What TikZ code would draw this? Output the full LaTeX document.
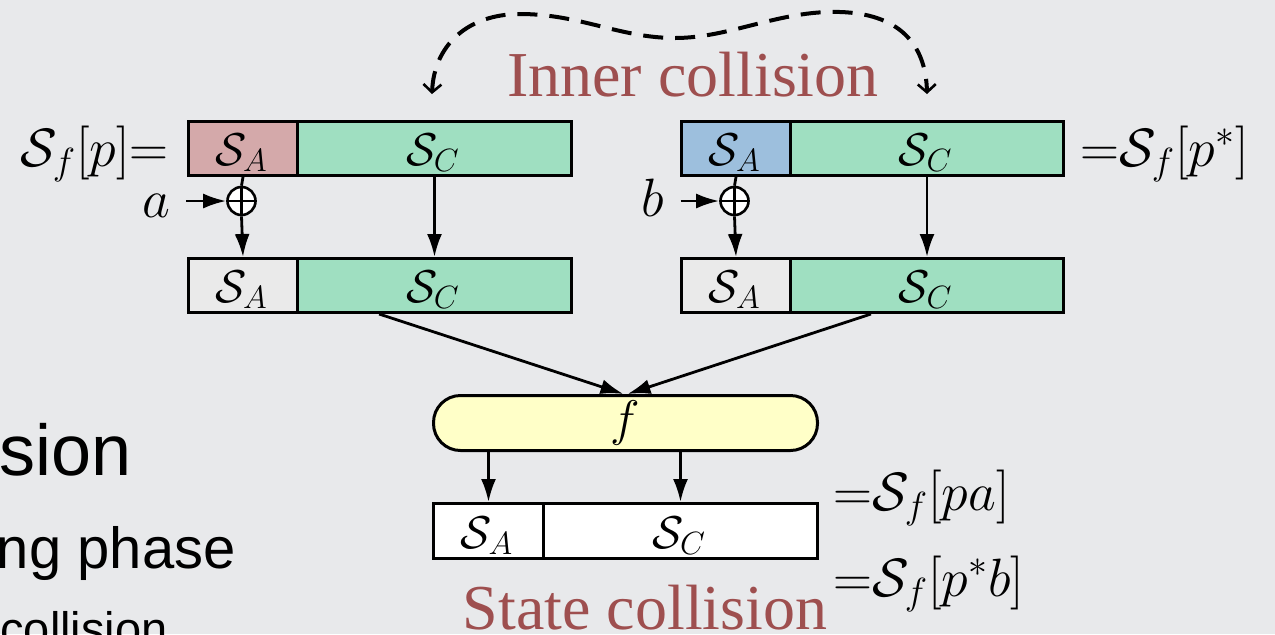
\RequirePackage{fix-cm}
\documentclass[tikz,border=0pt]{standalone}
\usepackage{fontspec}
\newfontfamily\timesf{Liberation Serif}
\newfontfamily\arialf{Liberation Sans}
\usetikzlibrary{arrows.meta,calc}
\definecolor{bgc}{HTML}{E8E9EB}
\definecolor{pinkA}{HTML}{D4A9AA}
\definecolor{greenC}{HTML}{9FDFC1}
\definecolor{blueA}{HTML}{9DBFDD}
\definecolor{lightcell}{HTML}{EAEAEA}
\definecolor{fyellow}{HTML}{FFFFC8}
\definecolor{redtxt}{HTML}{9E4F4F}
\begin{document}
\begin{tikzpicture}[x=0.5pt,y=-0.5pt,
  cell/.style={draw, line width=1.5pt, minimum height=27pt, inner sep=0pt, anchor=north west},
  mathlbl/.style={anchor=base, inner sep=0pt, font=\fontsize{23}{28}\selectfont},
  sideeq/.style={inner sep=0pt, font=\fontsize{27}{32}\selectfont},
  arr/.style={line width=1.4pt, -{Latex[length=11.5pt,width=7.5pt]}},
  plainline/.style={line width=1.4pt},
  xorc/.style={draw, circle, fill=white, minimum size=14pt, inner sep=0pt, line width=1.3pt},
  title/.style={anchor=base, inner sep=0pt, text=redtxt, font=\timesf\fontsize{32}{38}\selectfont},
  slide/.style={anchor=base east, inner sep=0pt, text=black},
  dasharrow/.style={line width=2pt, dash pattern=on 10pt off 6pt, {Straight Barb[length=4pt,width=9pt,line width=1.3pt]}-{Straight Barb[length=4pt,width=9pt,line width=1.3pt]}}
]
\useasboundingbox (0,0) rectangle (1275,634);
\clip (0,0) rectangle (1275,634);
\fill[bgc] (0,0) rectangle (1275,634);

% slide text fragments
\node[slide, font=\arialf\fontsize{36}{42}\selectfont] (t1) at (132,475) {sion};
\node[slide, font=\arialf\fontsize{29}{34}\selectfont] (t2) at (236,568) {ng phase};
\node[slide, font=\arialf\fontsize{23.5}{28}\selectfont] (t3) at (168,645) {collision};

% top registers
\node[cell, fill=pinkA, minimum width=54.5pt] (SA1) at (187,120) {};
\node[cell, fill=greenC, minimum width=137pt] (SC1) at (296,120) {};
\node[cell, fill=blueA, minimum width=54.5pt] (SA3) at (680,120) {};
\node[cell, fill=greenC, minimum width=136.5pt] (SC3) at (789,120) {};
% second row
\node[cell, fill=lightcell, minimum width=54.5pt] (SA2) at (187,257) {};
\node[cell, fill=greenC, minimum width=137pt] (SC2) at (296,257) {};
\node[cell, fill=lightcell, minimum width=54.5pt] (SA4) at (680,257) {};
\node[cell, fill=greenC, minimum width=136.5pt] (SC4) at (789,257) {};
% f
\node[draw, fill=fyellow, rounded corners=13.5pt, minimum width=192pt, minimum height=27.5pt,
      anchor=north west, line width=1.5pt, inner sep=0pt, font=\fontsize{25}{30}\selectfont] (f) at (432,394) {$f$};
% bottom register
\node[cell, fill=white, minimum width=55pt, minimum height=27.5pt] (SA5) at (432,502) {};
\node[cell, fill=white, minimum width=137pt, minimum height=27.5pt] (SC5) at (542,502) {};

% labels in cells
\node[mathlbl] (lA1) at (241.5,165) {$\mathcal{S}_A$};
\node[mathlbl] (lC1) at (433,165) {$\mathcal{S}_C$};
\node[mathlbl] (lA3) at (734.5,165) {$\mathcal{S}_A$};
\node[mathlbl] (lC3) at (925.5,165) {$\mathcal{S}_C$};
\node[mathlbl] (lA2) at (241.5,302) {$\mathcal{S}_A$};
\node[mathlbl] (lC2) at (433,302) {$\mathcal{S}_C$};
\node[mathlbl] (lA4) at (734.5,302) {$\mathcal{S}_A$};
\node[mathlbl] (lC4) at (925.5,302) {$\mathcal{S}_C$};
\node[mathlbl] (lA5) at (487,548) {$\mathcal{S}_A$};
\node[mathlbl] (lC5) at (679,548) {$\mathcal{S}_C$};

% side equations
\node[sideeq, anchor=base east] (eqL) at (169,166) {$\mathcal{S}_f[p]{=}$};
\node[sideeq, anchor=base west] (eqR) at (1080,166) {${=}\mathcal{S}_f[p^*]$};
\node[sideeq, anchor=base west] (eqB1) at (833,510) {${=}\mathcal{S}_f[pa]$};
\node[sideeq, anchor=base west] (eqB2) at (833,596) {${=}\mathcal{S}_f[p^*b]$};

% xor and inputs
\node[xorc] (x1) at (241.5,201) {};
\draw[plainline] (x1.north) -- (x1.south) (x1.west) -- (x1.east);
\node[xorc] (x3) at (734.5,201) {};
\draw[plainline] (x3.north) -- (x3.south) (x3.west) -- (x3.east);
\node[sideeq, anchor=base] (a) at (156,217) {$a$};
\node[sideeq, anchor=base] (b) at (653,216) {$b$};
\draw[arr, shorten <=8pt] (a.east |- x1.west) -- (x1.west);
\draw[arr, shorten <=8pt] (b.east |- x3.west) -- (x3.west);

\draw[plainline] (SA1.south) -- (x1.north);
\draw[arr] (x1.south) -- (SA2.north);
\draw[plainline] (SA3.south) -- (x3.north);
\draw[arr] (x3.south) -- (SA4.north);
\draw[arr] (SC1.south) -- (SC2.north);
\draw[arr] (SC3.south) -- (SC4.north);

% into f
\draw[arr] ($(SC2.south west)!0.3!(SC2.south east)$) -- ([xshift=-1pt]f.north);
\draw[arr] ($(SC4.south west)!0.297!(SC4.south east)$) -- ([xshift=1pt]f.north);

% out of f
\draw[arr] (SA5.north |- f.south) -- (SA5.north);
\draw[arr] (SC5.north |- f.south) -- (SC5.north);

% titles
\node[title] (inner) at (693,96) {Inner collision};
\node[title] (state) at (645,629) {State collision};

% dashed curve
\coordinate (dl) at (432,94);
\coordinate (dr) at (927,94);
\draw[dasharrow] (dl) .. controls (434,45) and (468,14) .. (520,14)
  .. controls (580,14) and (620,38) .. (675,38)
  .. controls (730,38) and (780,10) .. (840,12)
  .. controls (905,14) and (926,50) .. (dr);
\end{tikzpicture}
\end{document}
